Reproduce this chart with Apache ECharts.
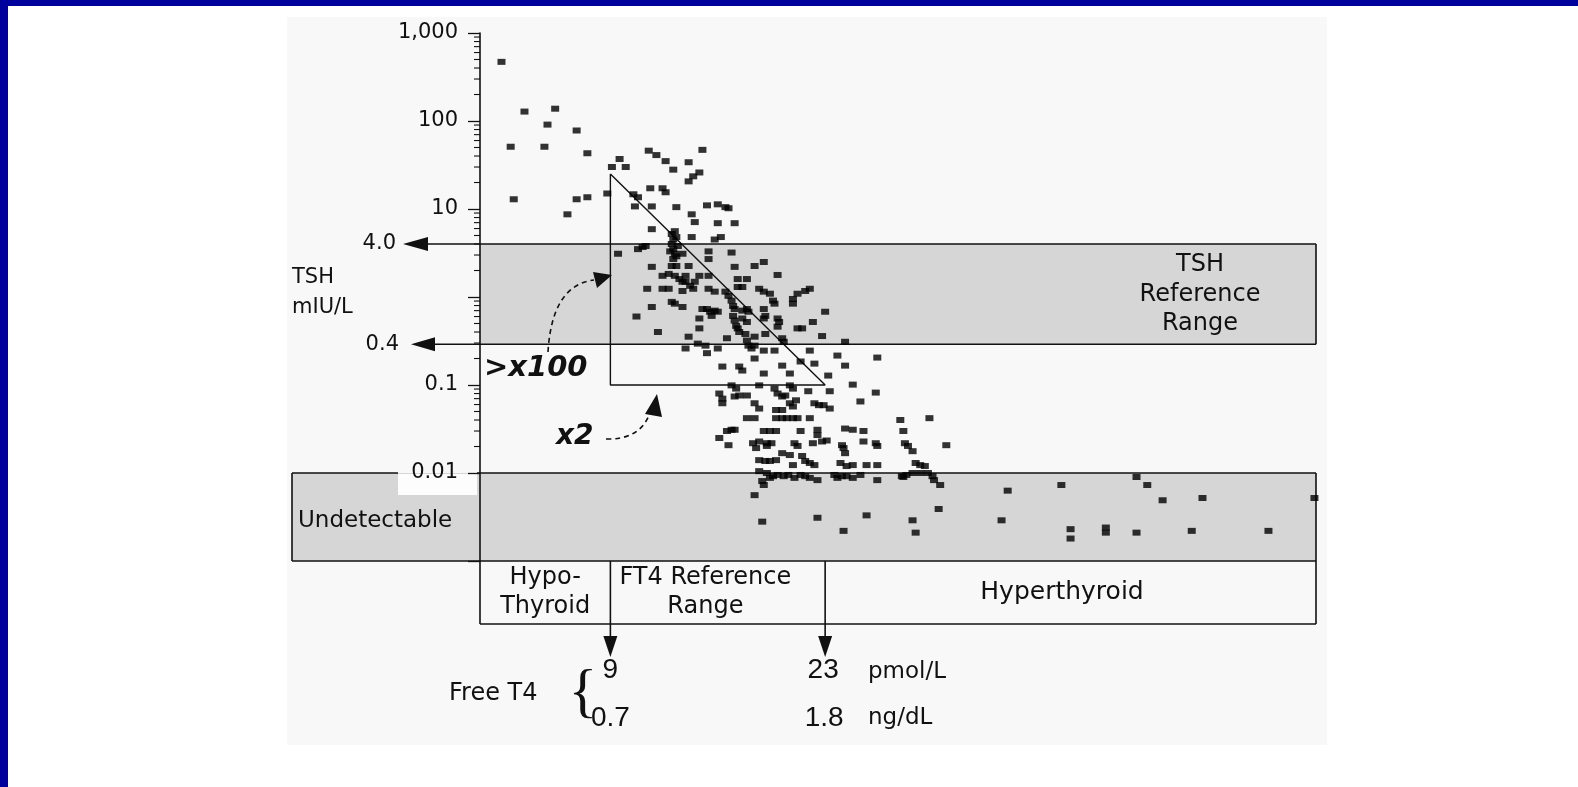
<!DOCTYPE html>
<html><head><meta charset="utf-8">
<script src="https://cdn.jsdelivr.net/npm/echarts@6/dist/echarts.min.js"></script>
<style>html,body{margin:0;padding:0;background:#fff;overflow:hidden}#c{width:1578px;height:787px}</style>
</head><body><div id="c"></div>
<script>
// ---- data: Free T4 (pmol/L) and TSH (mIU/L), one point per index ----
const ft4 = [
 1.9,3.4,5.4,4.9,2.5,4.7,6.8,7.5,2.7,6.8, 7.5,6.2,8.8,9.1,9.6,10.0,11.5,12.0,12.6,13.1,
 15.0,14.1,14.8,14.4,14.1,11.6,12.4,12.6,10.5,10.8, 10.6,11.7,9.5,10.8,11.3,11.7,13.3,15.3,16.0,16.5,
 16.7,14.3,14.5,16.0,17.1,13.2,13.3,14.3,15.8,16.2,
 13.0,13.1,13.2,13.1,11.1,13.7,15.4,16.9,11.7,13.0, 14.1,15.4,17.1,18.4,19.0,12.4,12.8,13.2,13.5,13.9,
 14.5,14.8,15.4,17.3,17.9,19.9,11.4,12.4,12.8,13.7, 14.2,14.4,15.4,16.5,16.7,16.9,17.3,17.6,18.7,19.0,
 19.4,19.6,19.7,21.2,21.7,22.0,20.9,20.9,11.7,13.0,
 13.2,13.7,15.3,15.5,15.6,15.8,16.0,17.1,17.6,17.9, 19.0,19.1,19.0,19.9,20.0,19.9,10.7,14.8,17.0,17.1,
 17.2,17.3,17.6,17.9,21.2,21.5,22.2,23.0,12.1,14.1, 16.6,17.8,17.9,18.0,18.4,19.1,20.2,20.3,22.8,24.3,
 13.9,14.7,15.2,15.3,16.0,18.2,18.4,19.0,19.7,21.4,
 22.0,22.3,23.8,24.3,26.4,16.3,17.4,17.6,18.4,19.0, 20.2,20.7,23.2,24.8,26.3,25.3,23.3,16.9,17.2,16.1,
 16.3,16.3,17.1,17.4,17.9,18.7,19.7,19.9,20.2,20.4, 20.7,20.9,21.1,21.9,18.4,18.7,19.8,20.2,20.7,20.9,
 22.3,22.6,22.9,23.3,17.9,18.4,19.8,20.2,20.5,20.9,
 21.2,22.0,24.3,24.8,25.5,27.9,28.1,29.8,16.6,16.9, 17.1,16.1,16.7,19.0,19.4,19.8,21.4,22.5,22.5,18.3,
 18.7,19.2,19.5,18.5,19.2,21.0,21.2,22.2,22.8,23.1, 24.1,24.2,24.3,25.5,26.3,26.4,28.2,28.4,28.7,30.9,
 18.7,19.1,19.4,19.8,20.2,20.7,20.9,21.5,21.7,22.0,
 22.3,24.0,24.4,24.8,25.7,26.4,28.9,29.2,29.5,18.7, 19.2,19.4,19.6,19.9,20.3,20.6,21.0,21.4,21.7,22.0,
 22.5,18.9,19.0,23.6,23.8,24.1,24.4,24.8,25.3,26.4, 28.0,28.3,28.7,29.2,29.7,30.0,30.1,30.5,18.4,28.1,
 30.4,28.7,28.9,34.9,34.5,38.4,39.0,39.0,41.3,41.3,
 43.3,44.0,45.0,43.3,47.6,46.9,51.9,54.9,18.9,22.5, 24.2,25.7,13.0,13.1,13.3,14.8,15.0,15.8,17.0,18.0,
 17.4,13.3,12.9,13.4,13.7,13.9
];
const tsh = [
 470,128,138,91,51,51,78,43,12.9,12.9, 13.6,8.7,15,30,37,30,46,41,35,28,
 47,34,26,23.5,20.6,17.2,17.2,15.5,14.7,13.6, 10.7,10.7,3.1,3.5,3.8,5.9,10.5,11.0,11.3,10.5,
 10.2,8.7,7.1,6.9,6.9,5.6,4.8,4.8,4.5,4.8,
 4.0,3.5,3.1,2.7,3.7,3.1,3.3,3.2,2.2,2.25, 2.25,2.7,2.2,2.25,2.5,1.74,1.83,1.74,1.6,1.49,
 1.49,1.74,1.74,1.6,1.6,1.78,1.24,1.24,1.24,1.17, 1.34,1.24,1.24,1.15,1.03,0.91,1.30,1.30,1.24,1.15,
 1.09,0.91,0.84,1.09,1.17,1.24,0.95,0.84,0.77,0.88,
 0.84,0.77,0.73,0.68,0.61,0.70,0.68,0.73,0.70,0.73, 0.73,0.61,0.57,0.57,0.52,0.46,0.60,0.44,0.61,0.54,
 0.47,0.44,0.57,0.52,0.44,0.44,0.52,0.68,0.40,0.354, 0.34,0.38,0.32,0.28,0.354,0.38,0.34,0.31,0.36,0.31,
 0.26,0.295,0.28,0.23,0.26,0.26,0.28,0.246,0.246,0.185,
 0.246,0.175,0.216,0.166,0.205,0.162,0.162,0.146,0.20,0.135, 0.166,0.135,0.128,0.101,0.082,0.065,0.085,0.099,0.091,0.080,
 0.070,0.062,0.074,0.076,0.076,0.099,0.091,0.080,0.074,0.076, 0.099,0.091,0.067,0.085,0.062,0.054,0.052,0.052,0.062,0.057,
 0.062,0.059,0.059,0.054,0.042,0.042,0.042,0.042,0.042,0.042,
 0.042,0.042,0.032,0.031,0.030,0.040,0.030,0.042,0.030,0.031, 0.031,0.025,0.0207,0.030,0.030,0.030,0.030,0.031,0.027,0.0218,
 0.0228,0.0218,0.0218,0.0192,0.0203,0.0218,0.0203,0.0218,0.0228,0.0234, 0.0207,0.0192,0.0168,0.0228,0.0218,0.0203,0.0218,0.0203,0.0177,0.0207,
 0.0140,0.0137,0.0137,0.0140,0.0168,0.0160,0.0123,0.0156,0.0137,0.0130,
 0.0123,0.0130,0.0120,0.0123,0.0123,0.0123,0.0130,0.0123,0.0120,0.0105, 0.0100,0.0088,0.0092,0.0095,0.0092,0.0095,0.0088,0.0095,0.0092,0.0088,
 0.0083,0.0081,0.0073,0.0095,0.0088,0.0092,0.0092,0.0088,0.0095,0.0083, 0.0092,0.0095,0.0100,0.0100,0.0100,0.0092,0.0083,0.0073,0.0056,0.0090,
 0.0039,0.0029,0.0021,0.0063,0.0029,0.0073,0.0023,0.0018,0.0024,0.0021,
 0.0090,0.0073,0.0049,0.0021,0.0052,0.0022,0.0022,0.0052,0.0028,0.0031, 0.0022,0.0033,5.2,4.5,2.25,0.57,0.73,1.15,0.79,0.68,
 0.40,2.9,3.3,3.8,1.49,1.74
];
// axis ticks (decade exponents) and their labels
const tickExponents = [3, 2, 1, -1, -2];
const tickLabels = ['1,000', '100', '10', '0.1', '0.01'];
const xRange = [0.5, 55];
const yRange = [0.001, 1000];
// reference ranges
const tshRefRange = [0.29, 4.0];
const tshRefLabels = ['0.4', '4.0'];
const undetectRange = [0.001, 0.01];
const ft4RefRange = [9, 23];
const ft4PmolLabels = ['9', '23'];
const ft4NgLabels = ['0.7', '1.8'];
// ">x100 / x2" triangle
const triFT4 = [9, 9, 23, 9];
const triTSH = [25, 0.1, 0.1, 25];

const FONT = '"DejaVu Sans", sans-serif';
const chart = echarts.init(document.getElementById('c'), null, {renderer: 'canvas'});
chart.setOption({
  backgroundColor: '#ffffff',
  animation: false,
  grid: {left: 480, right: 262, top: 33, bottom: 226},
  xAxis: {type: 'value', min: xRange[0], max: xRange[1], show: false},
  yAxis: {
    type: 'log', logBase: 10, min: yRange[0], max: yRange[1], splitNumber: 6, z: 5,
    axisLine: {show: true, lineStyle: {color: '#111', width: 1.6}},
    axisTick: {show: true, length: 12, lineStyle: {color: '#111', width: 1.3}},
    splitLine: {show: false},
    axisLabel: {
      margin: 22, color: '#111', fontFamily: 'DejaVu Sans', fontSize: 21,
      formatter: function (v) {
        const e = Math.round(Math.log10(v));
        const i = tickExponents.indexOf(e);
        return i < 0 ? '' : tickLabels[i];
      }
    }
  },
  series: [
    {type: 'line', data: triFT4.map((x, i) => [x, triTSH[i]]), symbol: 'none', silent: true,
     lineStyle: {color: '#111', width: 1.4}, z: 3, clip: false},
    {type: 'scatter', data: ft4.map((x, i) => [x, tsh[i]]), symbol: 'rect', symbolSize: [8, 6],
     itemStyle: {color: '#000000'}, z: 4}
  ]
});

function P(x, y) { return chart.convertToPixel({gridIndex: 0}, [x, y]); }
const xL = P(xRange[0], 1)[0], xR = P(xRange[1], 1)[0];
const x9 = P(ft4RefRange[0], 1)[0], x23 = P(ft4RefRange[1], 1)[0];
const yT4 = P(1, tshRefRange[1])[1], yT04 = P(1, tshRefRange[0])[1];
const yU1 = P(1, undetectRange[1])[1], yU0 = P(1, undetectRange[0])[1];
const yBox = yU0 + 63;
const LC = '#111', BAND = '#d6d6d6', PANEL = '#f8f8f8';
const g = [];
function rect(x, y, w, h, fill, z) { g.push({type: 'rect', shape: {x: x, y: y, width: w, height: h}, style: {fill: fill}, z: z, silent: true}); }
function line(x1, y1, x2, y2, w, z) { g.push({type: 'line', shape: {x1: x1, y1: y1, x2: x2, y2: y2}, style: {stroke: LC, lineWidth: w || 1.6}, z: z || 3, silent: true}); }
function poly(pts) { g.push({type: 'polygon', shape: {points: pts}, style: {fill: '#111'}, z: 3, silent: true}); }
function text(t, x, y, o) {
  g.push({type: 'text', x: x, y: y, z: 6, silent: true,
    style: Object.assign({text: t, fill: '#111', font: '24px ' + FONT, textAlign: 'center', textVerticalAlign: 'middle'}, o || {})});
}
function curve(x1, y1, cx, cy, x2, y2) {
  g.push({type: 'bezierCurve', shape: {x1: x1, y1: y1, x2: x2, y2: y2, cpx1: cx, cpy1: cy},
    style: {stroke: LC, lineWidth: 1.6, lineDash: [5, 4], fill: 'none'}, z: 3, silent: true});
}

// page frame
rect(287, 17, 1040, 728, PANEL, 0);
rect(0, 0, 8, 787, '#00009c', 0);
rect(0, 0, 1578, 6, '#00009c', 0);

// TSH reference band
rect(xL, yT4, xR - xL, yT04 - yT4, BAND, 1);
line(428, yT4, xR, yT4);
line(435, yT04, xR, yT04);
line(xR, yT4, xR, yT04);
poly([[403, yT4], [428, yT4 - 7], [428, yT4 + 7]]);
poly([[411, yT04], [435, yT04 - 7], [435, yT04 + 7]]);
text(tshRefLabels[1], 396, yT4, {textAlign: 'right', font: '21px ' + FONT});
text(tshRefLabels[0], 399, yT04, {textAlign: 'right', font: '21px ' + FONT});
text('TSH', 292, 278, {textAlign: 'left', font: '21px ' + FONT});
text('mIU/L', 292, 308, {textAlign: 'left', font: '21px ' + FONT});
text('TSH', 1200, 265);
text('Reference', 1200, 295);
text('Range', 1200, 324);

// Undetectable band
rect(292, yU1, xR - 292, yU0 - yU1, BAND, 1);
rect(398, yU1 + 1, 79, 21, '#fdfdfd', 2);
line(292, yU1, 292, yU0);
line(292, yU1, 398, yU1);
line(477, yU1, xR, yU1);
line(292, yU0, xR, yU0);
line(xR, yU1, xR, yU0);
text('Undetectable', 298, yU1 + 48, {textAlign: 'left', font: '23px ' + FONT});

// FT4 category row
line(xL, yU0, xL, yBox, 1.6, 5);
line(xL, yBox, xR, yBox);
line(xR, yU0, xR, yBox);
[x9, x23].forEach(function (x) {
  line(x, yU0, x, yBox + 13);
  poly([[x - 7, yBox + 12], [x + 7, yBox + 12], [x, yBox + 33]]);
});
text('Hypo-', (xL + x9) / 2, yU0 + 17);
text('Thyroid', (xL + x9) / 2, yU0 + 46);
text('FT4 Reference', x9 + 95, yU0 + 17);
text('Range', x9 + 95, yU0 + 46);
text('Hyperthyroid', 1062, yU0 + 31, {font: '25px ' + FONT});

// Free T4 units
const NUMF = '28px "Liberation Sans Narrow", "Liberation Sans", sans-serif';
text('Free T4', 449, 694, {textAlign: 'left'});
text('{', 583, 694, {font: '60px "Liberation Serif", serif'});
text(ft4PmolLabels[0], x9, 670, {font: NUMF});
text(ft4NgLabels[0], x9, 718, {font: NUMF});
text(ft4PmolLabels[1], x23 - 2, 670, {font: NUMF});
text(ft4NgLabels[1], x23 - 1, 718, {font: NUMF});
text('pmol/L', 868, 672, {textAlign: 'left', font: '23px ' + FONT});
text('ng/dL', 868, 718, {textAlign: 'left', font: '23px ' + FONT});

// annotations
text('>x100', 484, 368, {textAlign: 'left', font: 'italic bold 29px ' + FONT});
text('x2', 556, 437, {textAlign: 'left', font: 'italic bold 28px ' + FONT});
curve(548, 352, 552, 285, 594, 280);
poly([[612, 275], [593, 272], [597, 288]]);
curve(606, 439, 640, 440, 650, 413);
poly([[657, 394], [645, 414], [662, 417]]);

// minor log ticks
for (let d = -2; d <= 2; d++) {
  for (let k = 2; k <= 9; k++) {
    const y = P(1, k * Math.pow(10, d))[1];
    line(xL - 6, y, xL, y, 1.1, 5);
  }
}
chart.setOption({graphic: {elements: g}});
</script>
</body></html>
